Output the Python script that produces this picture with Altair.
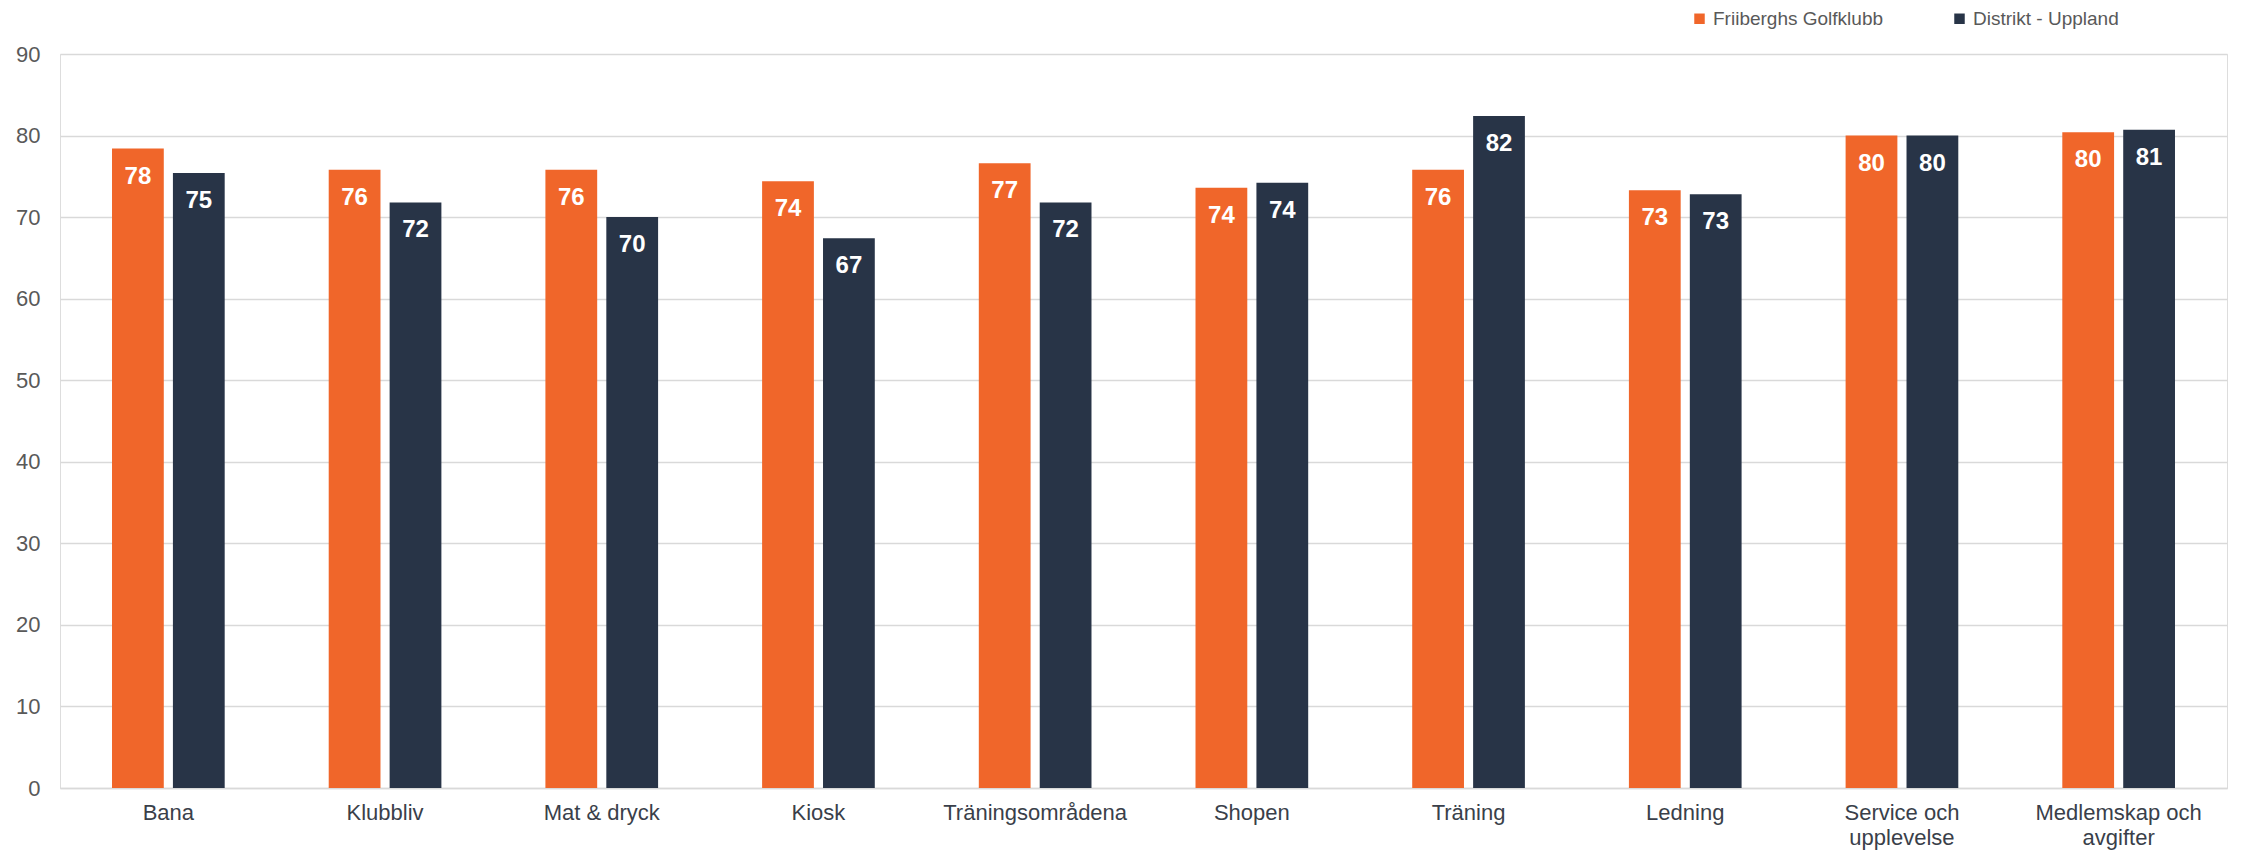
import altair as alt
import pandas as pd

categories = ["Bana", "Klubbliv", "Mat & dryck", "Kiosk", "Träningsområdena",
              "Shopen", "Träning", "Ledning", "Service och upplevelse",
              "Medlemskap och avgifter"]
series = ["Friiberghs Golfklubb", "Distrikt - Uppland"]
friiberghs = [78.4, 75.8, 75.8, 74.4, 76.6, 73.6, 75.8, 73.3, 80.0, 80.4]
distrikt = [75.4, 71.8, 70.0, 67.4, 71.8, 74.2, 82.4, 72.8, 80.0, 80.7]
colors = ["#F0662A", "#283447"]
y_ticks = [0, 10, 20, 30, 40, 50, 60, 70, 80, 90]

rows = []
for i, c in enumerate(categories):
    rows.append({"cat": c, "series": series[0], "value": friiberghs[i]})
    rows.append({"cat": c, "series": series[1], "value": distrikt[i]})
df = pd.DataFrame(rows)

FONT = "Liberation Sans"

label_expr = ("indexof(datum.label, ' och ') > 0 ? "
              "[slice(datum.label, 0, indexof(datum.label, ' och ') + 4), "
              "slice(datum.label, indexof(datum.label, ' och ') + 5)] : datum.label")

x = alt.X("cat:N", sort=categories, title=None,
          scale=alt.Scale(paddingInner=0.48, paddingOuter=0.24),
          axis=alt.Axis(labelAngle=0, labelFont=FONT, labelFontSize=22,
                        labelColor="#3A3F4A", labelPadding=14, ticks=False,
                        domain=True, domainColor="#D9D9D9", domainWidth=1.5,
                        labelExpr=label_expr, labelLineHeight=25,
                        labelBaseline="top", labelLimit=0))
xo = alt.XOffset("series:N", sort=series,
                 scale=alt.Scale(paddingInner=0.15, paddingOuter=0))
y = alt.Y("value:Q", title=None,
          scale=alt.Scale(domain=[0, 90], nice=False),
          axis=alt.Axis(values=y_ticks, labelFont=FONT, labelFontSize=22,
                        labelColor="#595959", labelPadding=20, ticks=False,
                        domain=False, gridColor="#D9D9D9", gridWidth=1.5))
color = alt.Color("series:N", sort=series,
                  scale=alt.Scale(domain=series, range=colors),
                  legend=alt.Legend(title=None, orient="none", direction="horizontal",
                                    legendX=1630, legendY=-45, symbolType="square",
                                    symbolSize=110, symbolStrokeWidth=0,
                                    labelFont=FONT, labelFontSize=19,
                                    labelColor="#595959", labelOffset=4,
                                    labelLimit=0, columnPadding=66, padding=0))

bars = alt.Chart(df).mark_bar().encode(x=x, xOffset=xo, y=y, color=color)
texts = alt.Chart(df).mark_text(
    color="white", font=FONT, fontSize=24, fontWeight="bold",
    baseline="middle", dy=28
).encode(x=x, xOffset=xo, y=y, text=alt.Text("value:Q", format=".0f"))

chart = alt.layer(bars, texts).properties(
    width=2167, height=734,
    autosize=alt.AutoSizeParams(type="none"),
    padding={"left": 52, "top": 46, "right": 10, "bottom": 90},
).configure_view(stroke=None).configure(background="white")

chart.save("out.html", embed_options={"renderer": "svg", "actions": False})
